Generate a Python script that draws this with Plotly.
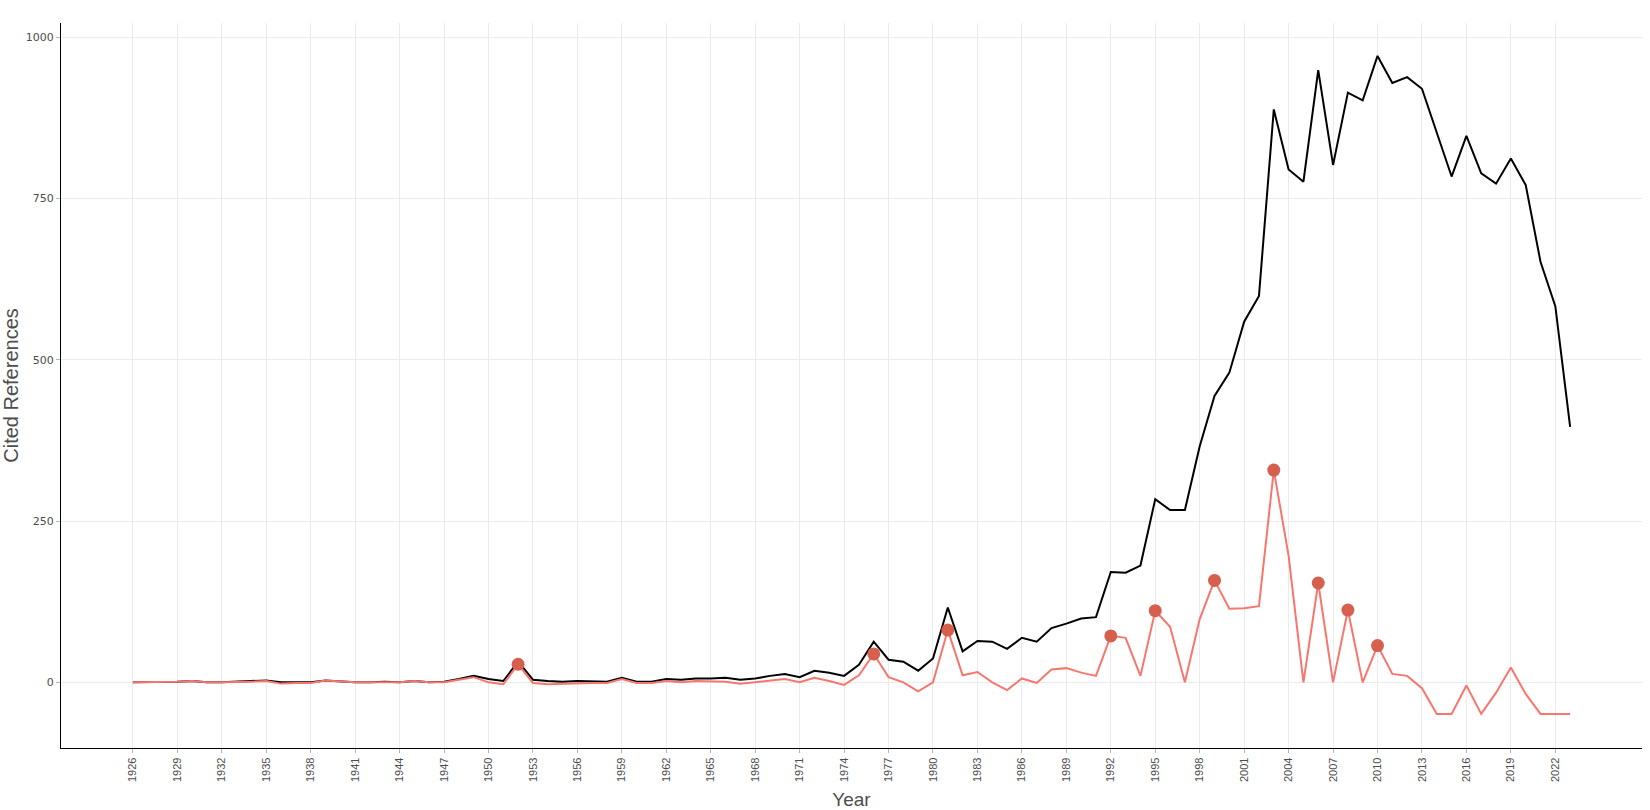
import plotly.graph_objects as go

years = list(range(1926, 2024))

cited_refs = [
    0, 0, 0, 1, 2, 0, 0, 1, 2, 3,          # 1926-1935
    0, 0, 0, 3, 1, 0, 0, 1, 0, 2,          # 1936-1945
    0, 1, 5, 10, 5, 2, 32, 4, 2, 1,        # 1946-1955
    2, 1, 1, 7, 1, 1, 5, 4, 6, 6,          # 1956-1965
    7, 4, 6, 10, 13, 8, 18, 15, 10, 27,    # 1966-1975
    63, 35, 32, 18, 37, 116, 48, 64, 63, 52,   # 1976-1985
    69, 63, 84, 91, 99, 101, 171, 170, 181, 284,  # 1986-1995
    267, 267, 366, 444, 480, 559, 599, 888, 795, 776,  # 1996-2005
    949, 802, 914, 902, 971, 929, 938, 920, 852, 784,  # 2006-2015
    847, 789, 773, 812, 771, 652, 583, 396,  # 2016-2023
]

diff_median = [
    0, 0, 0, 1, 2, 0, 0, 0, 1, 2,          # 1926-1935
    -2, -1, -1, 3, 1, 0, 0, 0, 0, 2,       # 1936-1945
    0, 0, 4, 8, 0, -3, 28, -1, -3, -2,     # 1946-1955
    -1, -1, -1, 5, -1, -1, 2, 0, 2, 2,     # 1956-1965
    1, -2, 0, 3, 5, 0, 7, 2, -4, 11,       # 1966-1975
    44, 8, 0, -14, 0, 81, 11, 16, 0, -12,  # 1976-1985
    6, -1, 20, 22, 15, 10, 72, 69, 10, 111,  # 1986-1995
    86, 0, 98, 158, 114, 115, 118, 329, 196, 0,  # 1996-2005
    154, 0, 112, 0, 57, 13, 10, -9, -49, -49,  # 2006-2015
    -5, -49, -16, 23, -18, -49, -49, -49,  # 2016-2023
]

peak_years = [1952, 1976, 1981, 1992, 1995, 1999, 2003, 2006, 2008, 2010]
peak_values = [diff_median[years.index(y)] for y in peak_years]

tick_years = list(range(1926, 2023, 3))

fig = go.Figure()
fig.add_trace(go.Scatter(x=years, y=cited_refs, mode="lines",
                         line=dict(color="#000000", width=2), showlegend=False))
fig.add_trace(go.Scatter(x=years, y=diff_median, mode="lines",
                         line=dict(color="#F8766D", width=2), showlegend=False))
fig.add_trace(go.Scatter(x=peak_years, y=peak_values, mode="markers",
                         marker=dict(color="#D6604D", size=13), showlegend=False))

fig.update_layout(
    width=1650, height=810,
    margin=dict(l=61, r=8, t=23, b=62),
    paper_bgcolor="white", plot_bgcolor="white",
    font=dict(family="Liberation Sans, Arial, sans-serif", color="#4d4d4d"),
)
fig.update_xaxes(
    range=[1921.15, 2027.85], automargin=False,
    tickmode="array", tickvals=tick_years, ticktext=[str(y) for y in tick_years],
    tickangle=-90, tickfont=dict(size=11, color="#4d4d4d"),
    ticks="outside", ticklen=4, tickcolor="#b3b3b3",
    showgrid=True, gridcolor="#ebebeb", gridwidth=1,
    showline=True, linecolor="#000000", linewidth=1.3, zeroline=False,
    title=dict(text="Year", font=dict(size=19, color="#4d4d4d"), standoff=11),
)
fig.update_yaxes(
    range=[-101.8, 1022], automargin=False,
    tickvals=[0, 250, 500, 750, 1000],
    tickfont=dict(size=11, family="DejaVu Sans, Verdana, sans-serif", color="#4d4d4d"),
    ticks="outside", ticklen=4, tickcolor="#b3b3b3",
    showgrid=True, gridcolor="#ebebeb", gridwidth=1,
    showline=True, linecolor="#000000", linewidth=1.3, zeroline=False,
    title=dict(text="Cited References", font=dict(size=20, color="#4d4d4d"), standoff=5),
)

fig.write_html("out.html")
